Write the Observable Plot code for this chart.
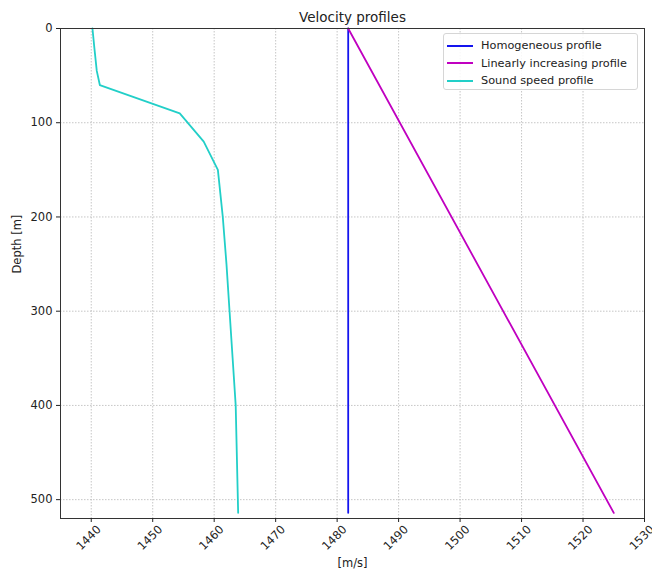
<!DOCTYPE html>
<html>
<head>
<meta charset="utf-8">
<script src="https://cdn.jsdelivr.net/npm/d3@7"></script>
<script src="https://cdn.jsdelivr.net/npm/@observablehq/plot@0.6"></script>
<style>
  body { margin: 0; background: #fff; font-family: "DejaVu Sans", sans-serif; }
  #wrap { position: relative; width: 652px; height: 574px; }
  #legend { position: absolute; left: 443px; top: 33px; width: 195px; height: 57px;
    border: 1px solid #d6d6d6; border-radius: 3px; background: rgba(255,255,255,0.85);
    font-size: 11.3px; color: #222; box-sizing: border-box; padding: 3px 0 0 3px; white-space: nowrap; }
  #legend .row { display: flex; align-items: center; height: 17.5px; }
  #legend .sw { width: 26px; height: 0; border-top: 2px solid; margin-right: 8px; flex: none; }
</style>
</head>
<body>
<div id="wrap"><div id="chart"></div><div id="legend"></div></div>
<script>
const seriesNames = ["Homogeneous profile", "Linearly increasing profile", "Sound speed profile"];
const seriesColors = ["#1414ee", "#c000c0", "#22cfc8"];

// Homogeneous profile
const homDepth = [0, 514];
const homSpeed = [1481.8, 1481.8];

// Linearly increasing profile
const linDepth = [0, 514];
const linSpeed = [1481.8, 1525.0];

// Sound speed profile
const sspDepth = [0, 20, 45, 60, 90, 120, 150, 200, 250, 300, 350, 400, 514];
const sspSpeed = [1440.2, 1440.5, 1440.9, 1441.4, 1454.4, 1458.3, 1460.6, 1461.4, 1462.0, 1462.5, 1463.0, 1463.5, 1463.9];

const xTicks = [1440, 1450, 1460, 1470, 1480, 1490, 1500, 1510, 1520, 1530];
const yTicks = [0, 100, 200, 300, 400, 500];

const rows = [];
homDepth.forEach((d, i) => rows.push({s: seriesNames[0], depth: d, v: homSpeed[i]}));
linDepth.forEach((d, i) => rows.push({s: seriesNames[1], depth: d, v: linSpeed[i]}));
sspDepth.forEach((d, i) => rows.push({s: seriesNames[2], depth: d, v: sspSpeed[i]}));

const plot = Plot.plot({
  width: 652,
  height: 574,
  marginLeft: 60,
  marginRight: 8,
  marginTop: 28,
  marginBottom: 56,
  style: {fontFamily: "DejaVu Sans, sans-serif", fontSize: "11.5px", color: "#222", background: "#fff"},
  x: {domain: [1435, 1530], ticks: xTicks, tickSize: 4, tickFormat: () => "", label: null},
  y: {domain: [0, 520], reverse: true, ticks: yTicks, tickSize: 4, tickPadding: 4, label: null},
  color: {domain: seriesNames, range: seriesColors},
  marks: [
    Plot.gridX(xTicks, {stroke: "#b8b8b8", strokeOpacity: 1, strokeDasharray: "1.5,1.5", strokeWidth: 0.8}),
    Plot.gridY(yTicks, {stroke: "#b8b8b8", strokeOpacity: 1, strokeDasharray: "1.5,1.5", strokeWidth: 0.8}),
    Plot.line(rows, {x: "v", y: "depth", z: "s", stroke: "s", strokeWidth: 1.8}),
    Plot.frame({stroke: "#333", strokeWidth: 1}),
    Plot.axisX(xTicks, {tickSize: 4, tickFormat: () => "", label: null}),
    Plot.text(xTicks, {x: d => d, frameAnchor: "bottom", dy: 22, rotate: -45, textAnchor: "middle", text: d => String(d), fontSize: 11.5}),
    Plot.axisY(yTicks, {tickSize: 4, tickPadding: 4, label: null}),
    Plot.text(["[m/s]"], {frameAnchor: "bottom", dy: 48, text: d => d, fontSize: 11.5}),
    Plot.text(["Depth [m]"], {frameAnchor: "left", dx: -43, rotate: -90, text: d => d, fontSize: 11.5}),
    Plot.text(["Velocity profiles"], {frameAnchor: "top", dy: -16, text: d => d, fontSize: 13.5})
  ]
});
document.getElementById("chart").appendChild(plot);

const legend = document.getElementById("legend");
seriesNames.forEach((n, i) => {
  const r = document.createElement("div");
  r.className = "row";
  r.innerHTML = `<span class="sw" style="border-color:${seriesColors[i]}"></span><span>${n}</span>`;
  legend.appendChild(r);
});
</script>
</body>
</html>
